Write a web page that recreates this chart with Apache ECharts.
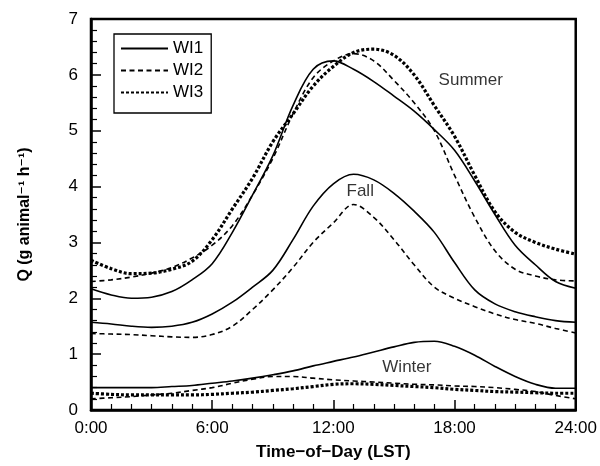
<!DOCTYPE html>
<html>
<head>
<meta charset="utf-8">
<script src="https://cdn.jsdelivr.net/npm/echarts@6/dist/echarts.min.js"></script>
<style>
  html, body {margin: 0; padding: 0; background: #fff;}
  #main {width: 600px; height: 466px;}
</style>
</head>
<body>
<div id="main"></div>
<script>
// hours of day (LST)
const hours = [0, 1, 2, 3, 4, 5, 6, 7, 8, 9, 10, 11, 12, 13, 14, 15, 16, 17, 18, 19, 20, 21, 22, 23, 24];

// Q values (g animal-1 h-1)
const summerWI1 = [2.17, 2.06, 2.0, 2.02, 2.12, 2.33, 2.62, 3.18, 3.85, 4.55, 5.45, 6.1, 6.25, 6.1, 5.88, 5.62, 5.35, 5.02, 4.65, 4.1, 3.5, 2.95, 2.6, 2.3, 2.18];
const summerWI2 = [2.3, 2.33, 2.38, 2.45, 2.55, 2.72, 2.95, 3.3, 3.85, 4.5, 5.3, 5.95, 6.25, 6.38, 6.25, 5.9, 5.5, 5.0, 4.2, 3.45, 2.85, 2.52, 2.4, 2.33, 2.31];
const summerWI3 = [2.68, 2.53, 2.44, 2.45, 2.52, 2.66, 3.05, 3.6, 4.15, 4.8, 5.3, 5.8, 6.15, 6.4, 6.46, 6.35, 6.0, 5.45, 4.9, 4.2, 3.55, 3.18, 3.0, 2.88, 2.79];

const fallWI1 = [1.57, 1.54, 1.5, 1.48, 1.5, 1.57, 1.72, 1.93, 2.2, 2.5, 3.05, 3.65, 4.05, 4.22, 4.12, 3.88, 3.56, 3.18, 2.64, 2.15, 1.9, 1.76, 1.67, 1.6, 1.57];
const fallWI2 = [1.37, 1.36, 1.35, 1.33, 1.31, 1.3, 1.35, 1.5, 1.8, 2.15, 2.55, 3.0, 3.35, 3.68, 3.45, 3.05, 2.6, 2.2, 2.0, 1.85, 1.72, 1.62, 1.55, 1.46, 1.38];

const winterWI1 = [0.4, 0.4, 0.4, 0.4, 0.42, 0.44, 0.48, 0.52, 0.57, 0.63, 0.7, 0.79, 0.87, 0.95, 1.04, 1.13, 1.21, 1.23, 1.14, 0.98, 0.78, 0.6, 0.46, 0.39, 0.39];
const winterWI2 = [0.2, 0.22, 0.24, 0.27, 0.3, 0.35, 0.4, 0.48, 0.55, 0.6, 0.6, 0.57, 0.54, 0.52, 0.5, 0.48, 0.46, 0.45, 0.43, 0.42, 0.4, 0.37, 0.33, 0.26, 0.2];
const winterWI3 = [0.3, 0.28, 0.27, 0.27, 0.27, 0.27, 0.28, 0.3, 0.32, 0.35, 0.38, 0.42, 0.46, 0.47, 0.46, 0.44, 0.42, 0.4, 0.37, 0.35, 0.33, 0.32, 0.31, 0.3, 0.3];

// season labels: [text, hour, Q]
const seasonLabels = [['Summer', 18.8, 5.91], ['Fall', 13.33, 3.91], ['Winter', 15.64, 0.77]];

const font = 'Liberation Sans, Arial, Helvetica, DejaVu Sans, sans-serif';

const styles = {
  WI1: {color: '#000', width: 1.6, type: 'solid'},
  WI2: {color: '#000', width: 1.6, type: [5, 3.5]},
  WI3: {color: '#000', width: 3.2, type: [3, 2]},
};

function pairs(arr) {
  return hours.map((h, i) => [h, arr[i]]);
}

function lineSeries(name, arr) {
  return {
    type: 'line',
    name: name,
    data: pairs(arr),
    smooth: 0.35,
    symbol: 'none',
    showSymbol: false,
    silent: true,
    lineStyle: styles[name],
    itemStyle: {color: '#000'},
  };
}

const chart = echarts.init(document.getElementById('main'));

const option = {
  animation: false,
  backgroundColor: '#fff',
  textStyle: {fontFamily: font},
  grid: {
    left: 91, right: 21, top: 19, bottom: 55,
    show: true, borderColor: '#000', borderWidth: 2.5,
  },
  legend: {
    data: ['WI1', 'WI2', 'WI3'],
    orient: 'vertical',
    left: 114,
    top: 34,
    padding: [6, 8, 12, 6],
    itemWidth: 47,
    itemHeight: 12,
    itemGap: 5,
    borderColor: '#000',
    borderWidth: 1.3,
    borderRadius: 0,
    selectedMode: false,
    itemStyle: {opacity: 0},
    textStyle: {fontFamily: font, fontSize: 17, color: '#000', padding: [0, 0, 0, 0]},
  },
  xAxis: {
    type: 'value',
    min: 0,
    max: 24,
    interval: 6,
    name: 'Time\u2212of\u2212Day (LST)',
    nameLocation: 'middle',
    nameGap: 34,
    nameTextStyle: {fontFamily: font, fontSize: 17, fontWeight: 'bold', color: '#000'},
    axisLine: {lineStyle: {color: '#000', width: 2.5}},
    axisTick: {show: true, inside: true, length: 10, lineStyle: {color: '#000', width: 1.5}},
    minorTick: {show: true, splitNumber: 6, length: 6, lineStyle: {color: '#000', width: 1.2}},
    axisLabel: {
      fontFamily: font, fontSize: 17, color: '#000', margin: 10,
      formatter: v => v + ':00',
    },
    splitLine: {show: false},
  },
  yAxis: {
    type: 'value',
    min: 0,
    max: 7,
    interval: 1,
    name: 'Q (g animal\u207B\u00B9 h\u207B\u00B9)',
    nameLocation: 'middle',
    nameGap: 58,
    nameTextStyle: {fontFamily: font, fontSize: 16, fontWeight: 'bold', color: '#000'},
    axisLine: {show: true, lineStyle: {color: '#000', width: 2.5}},
    axisTick: {show: true, inside: true, length: 10, lineStyle: {color: '#000', width: 1.5}},
    minorTick: {show: true, splitNumber: 5, length: 6, lineStyle: {color: '#000', width: 1.2}},
    axisLabel: {fontFamily: font, fontSize: 17, color: '#000', margin: 13},
    splitLine: {show: false},
  },
  series: [
    lineSeries('WI1', summerWI1),
    lineSeries('WI2', summerWI2),
    lineSeries('WI3', summerWI3),
    lineSeries('WI1', fallWI1),
    lineSeries('WI2', fallWI2),
    lineSeries('WI1', winterWI1),
    lineSeries('WI2', winterWI2),
    lineSeries('WI3', winterWI3),
    {
      type: 'scatter',
      name: 'labels',
      silent: true,
      symbolSize: 1,
      itemStyle: {color: 'rgba(0,0,0,0)'},
      data: seasonLabels.map(d => ({name: d[0], value: [d[1], d[2]]})),
      label: {
        show: true,
        position: 'inside',
        formatter: p => p.name,
        fontFamily: font,
        fontSize: 17,
        color: '#000',
      },
      z: 5,
    },
  ],
};

chart.setOption(option);
</script>
</body>
</html>
